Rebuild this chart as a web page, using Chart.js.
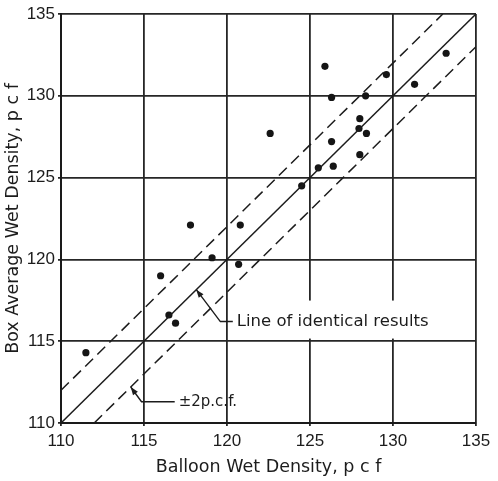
<!DOCTYPE html>
<html>
<head>
<meta charset="utf-8">
<script src="https://cdn.jsdelivr.net/npm/chart.js@4.4.1/dist/chart.umd.min.js"></script>
<style>
  html, body { margin: 0; padding: 0; background: #fff; }
  #wrap { width: 498px; height: 481px; }
</style>
</head>
<body>
<div id="wrap"><canvas id="density"></canvas></div>
<script>
// balloon (x) vs box average (y) wet density, pcf
const balloonDensity = [111.5, 116.0, 116.5, 116.9, 117.8, 119.1, 120.7, 120.8, 122.6, 124.5, 125.5, 125.9,
                        126.3, 126.3, 126.4, 128.0, 127.95, 128.0, 128.4, 128.35, 129.6, 131.3, 133.2];
const boxDensity     = [114.3, 119.0, 116.6, 116.1, 122.1, 120.1, 119.7, 122.1, 127.7, 124.5, 125.6, 131.8,
                        129.9, 127.2, 125.7, 126.4, 128.0, 128.6, 127.7, 130.0, 131.3, 130.7, 132.6];

const axisTicks = [110, 115, 120, 125, 130, 135];

// reference lines (x, y end points)
const identityX = [110, 135], identityY = [110, 135];
const upperX = [110, 133], upperY = [112, 135];
const lowerX = [112, 135], lowerY = [110, 133];

// callouts, in data units
const identicalLeader = [[118.15, 118.15], [119.6, 116.2], [120.35, 116.2]];
const identicalText = 'Line of identical results';
const bandLeader = [[114.2, 112.2], [114.85, 111.3], [116.85, 111.3]];
const bandText = '\u00b12p.c.f.';

const ink = '#1c1c1c';
const tickFont = "'Liberation Sans', Arial, sans-serif";
const textFont = "'DejaVu Sans', sans-serif";

const toPts = (xs, ys) => xs.map((x, i) => ({ x: x, y: ys[i] }));

const calloutPlugin = {
  id: 'callouts',
  afterDatasetsDraw(chart) {
    const ctx = chart.ctx;
    const sx = chart.scales.x, sy = chart.scales.y;
    const px = p => [sx.getPixelForValue(p[0]), sy.getPixelForValue(p[1])];

    function callout(leader, text, size, boxed) {
      const pts = leader.map(px);
      const end = pts[pts.length - 1];
      ctx.save();
      ctx.font = size + 'px ' + textFont;
      const w = ctx.measureText(text).width;
      if (boxed) {
        ctx.fillStyle = '#fff';
        ctx.fillRect(end[0] + 2, end[1] - 21, w + 8, 38);
      }
      ctx.strokeStyle = ink;
      ctx.lineWidth = 1.4;
      ctx.beginPath();
      ctx.moveTo(pts[0][0], pts[0][1]);
      for (let i = 1; i < pts.length; i++) ctx.lineTo(pts[i][0], pts[i][1]);
      ctx.stroke();
      // arrow head at the tip
      const a = Math.atan2(pts[0][1] - pts[1][1], pts[0][0] - pts[1][0]);
      ctx.fillStyle = ink;
      ctx.beginPath();
      ctx.moveTo(pts[0][0], pts[0][1]);
      ctx.lineTo(pts[0][0] - 8 * Math.cos(a) + 3 * Math.sin(a), pts[0][1] - 8 * Math.sin(a) - 3 * Math.cos(a));
      ctx.lineTo(pts[0][0] - 8 * Math.cos(a) - 3 * Math.sin(a), pts[0][1] - 8 * Math.sin(a) + 3 * Math.cos(a));
      ctx.closePath();
      ctx.fill();
      ctx.textBaseline = 'middle';
      ctx.fillText(text, end[0] + 4, end[1]);
      ctx.restore();
    }

    callout(identicalLeader, identicalText, 16.5, true);
    callout(bandLeader, bandText, 15, false);
  }
};

const axisCommon = {
  type: 'linear',
  min: 110,
  max: 135,
  afterBuildTicks: s => { s.ticks = axisTicks.map(v => ({ value: v })); },
  grid: { color: '#262626', lineWidth: 1.8, tickLength: 3 },
  border: { color: '#1a1a1a', width: 2 },
};

new Chart(document.getElementById('density'), {
  type: 'scatter',
  data: {
    datasets: [
      {
        label: 'identical',
        data: toPts(identityX, identityY),
        showLine: true,
        borderColor: ink,
        borderWidth: 1.5,
        pointRadius: 0
      },
      {
        label: '+2',
        data: toPts(upperX, upperY),
        showLine: true,
        borderColor: ink,
        borderWidth: 1.5,
        borderDash: [11, 6],
        pointRadius: 0
      },
      {
        label: '-2',
        data: toPts(lowerX, lowerY),
        showLine: true,
        borderColor: ink,
        borderWidth: 1.5,
        borderDash: [11, 6],
        pointRadius: 0
      },
      {
        label: 'tests',
        data: toPts(balloonDensity, boxDensity),
        pointRadius: 3.6,
        pointBackgroundColor: '#151515',
        pointBorderColor: '#151515',
        pointBorderWidth: 0
      }
    ]
  },
  options: {
    responsive: true,
    maintainAspectRatio: false,
    animation: false,
    events: [],
    layout: { padding: { top: 14, right: 22, left: 0, bottom: 0 } },
    plugins: { legend: { display: false }, tooltip: { enabled: false } },
    scales: {
      x: Object.assign({}, axisCommon, {
        afterFit: s => { s.height = 58; },
        ticks: { color: ink, padding: 5, font: { family: tickFont, size: 17 } },
        title: {
          display: true,
          text: 'Balloon Wet Density, p c f',
          color: ink,
          font: { family: textFont, size: 17.5 },
          padding: { top: 0, bottom: 3 }
        }
      }),
      y: Object.assign({}, axisCommon, {
        afterFit: s => { s.width = 61; },
        ticks: { color: ink, padding: 3, font: { family: tickFont, size: 17 } },
        title: {
          display: true,
          text: 'Box Average Wet Density, p c f',
          color: ink,
          font: { family: textFont, size: 17.5 },
          padding: { top: 3, bottom: 0 }
        }
      })
    }
  },
  plugins: [calloutPlugin]
});
</script>
</body>
</html>
